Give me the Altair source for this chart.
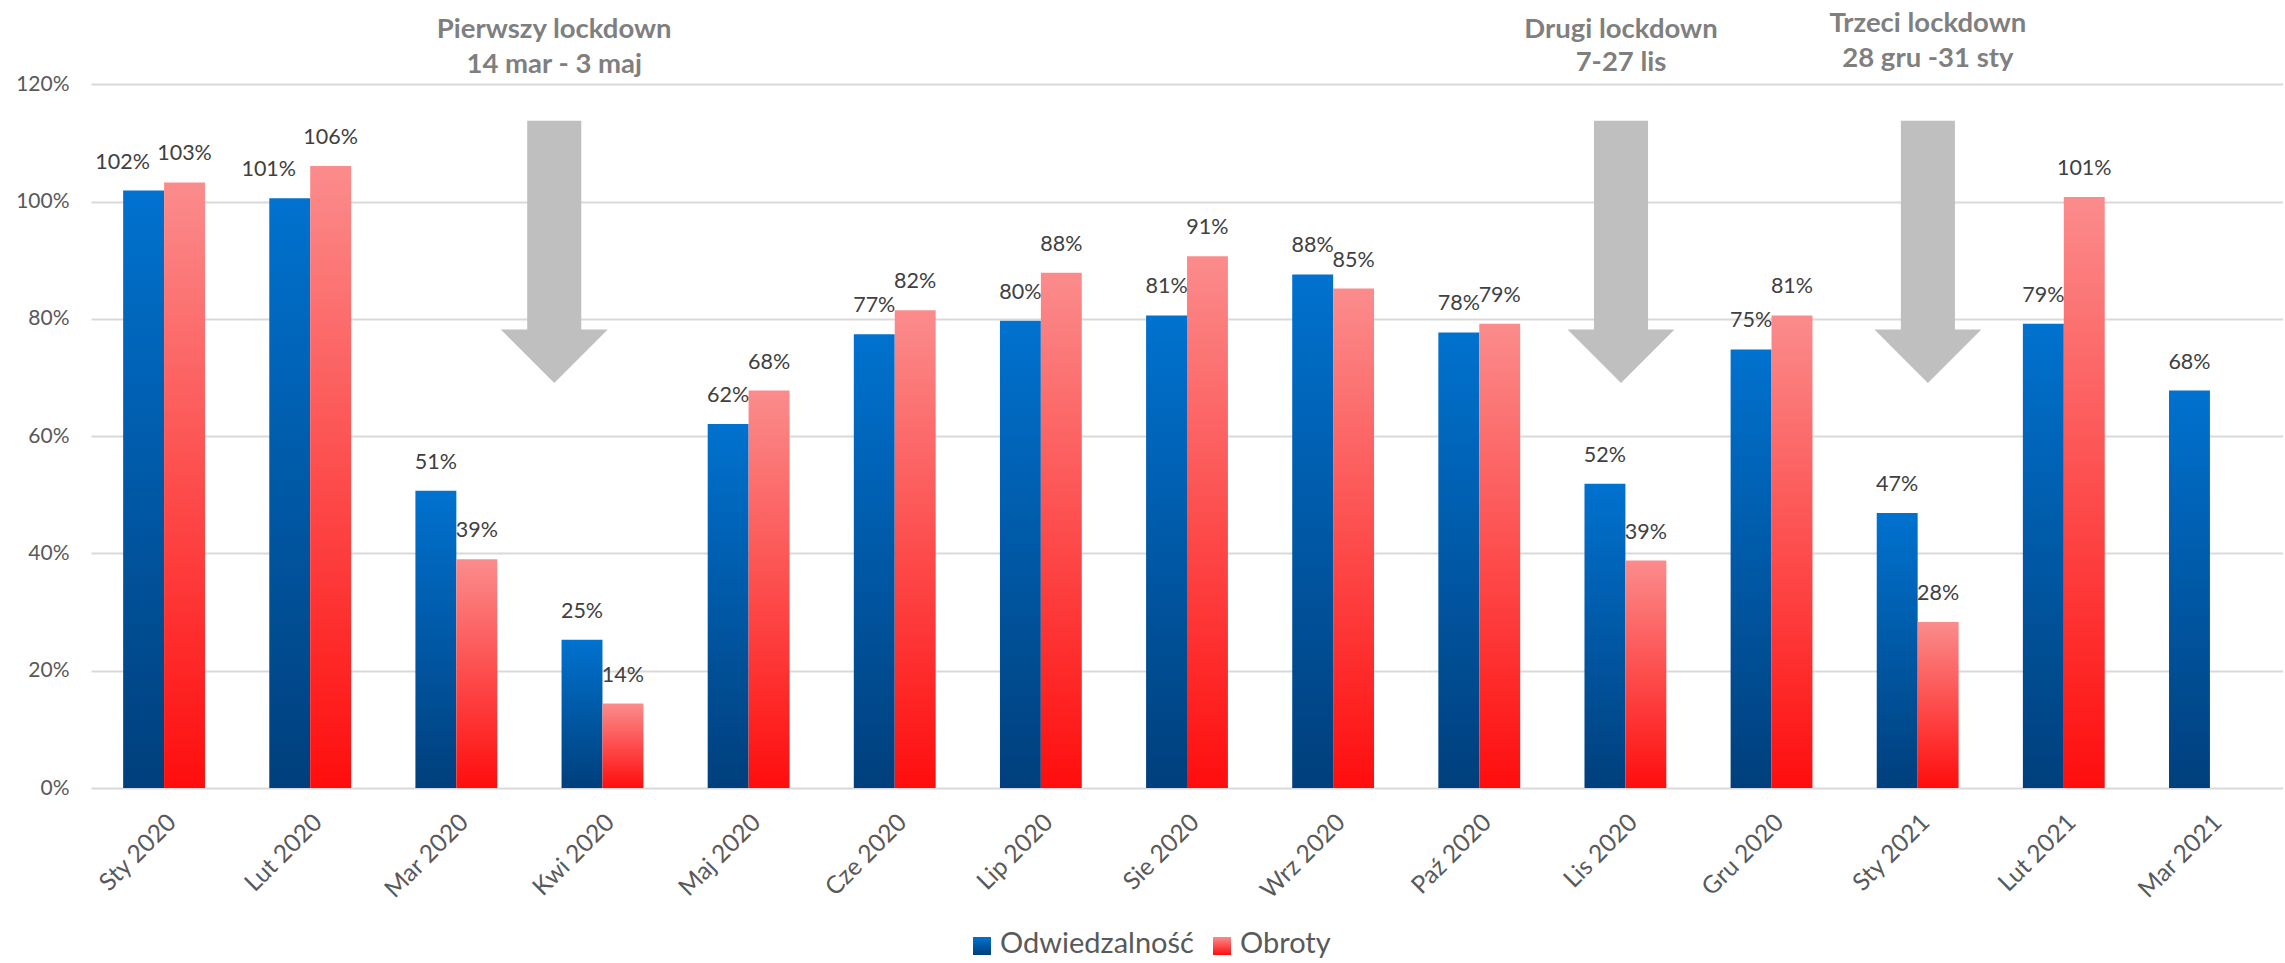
import altair as alt
import pandas as pd

# ---------------- data ----------------
months = ["Sty 2020", "Lut 2020", "Mar 2020", "Kwi 2020", "Maj 2020", "Cze 2020",
          "Lip 2020", "Sie 2020", "Wrz 2020", "Paź 2020", "Lis 2020", "Gru 2020",
          "Sty 2021", "Lut 2021", "Mar 2021"]
odwiedzalnosc = [1.019, 1.006, 0.507, 0.253, 0.621, 0.774, 0.797, 0.806, 0.876,
                 0.777, 0.519, 0.748, 0.469, 0.792, 0.678]
obroty = [1.033, 1.061, 0.390, 0.144, 0.678, 0.815, 0.879, 0.907, 0.852,
          0.792, 0.388, 0.806, 0.283, 1.008, None]
series_names = ["Odwiedzalność", "Obroty"]

lockdown_titles = ["Pierwszy lockdown", "Drugi lockdown", "Trzeci lockdown"]
lockdown_dates = ["14 mar - 3 maj", "7-27 lis", "28 gru -31 sty"]
# annotation anchor along the month axis (in month units, month i centred at i + 0.5)
lockdown_pos = [3.17, 10.47, 12.57]
lockdown_title_y = [1.293, 1.293, 1.303]
lockdown_date_y = [1.233, 1.237, 1.243]

# blue data labels that are nudged left in the original to clear their neighbours
nudged_months = ["Sty 2020", "Lut 2020"]

# ---------------- styling ----------------
FONT = "Lato"
W, H = 2192, 783
Y_MAX = 1.3356
blue_grad = alt.LinearGradient(
    gradient="linear", x1=0, y1=0, x2=0, y2=1,
    stops=[alt.GradientStop(offset=0, color="#0072cf"),
           alt.GradientStop(offset=1, color="#003f7c")])
red_grad = alt.LinearGradient(
    gradient="linear", x1=0, y1=0, x2=0, y2=1,
    stops=[alt.GradientStop(offset=0, color="#fb8c8c"),
           alt.GradientStop(offset=1, color="#ff0d0d")])
ARROW = "#bfbfbf"

# ---------------- tables ----------------
rows = []
for m, a, b in zip(months, odwiedzalnosc, obroty):
    if a is not None:
        rows.append({"month": m, "series": series_names[0], "value": a})
    if b is not None:
        rows.append({"month": m, "series": series_names[1], "value": b})
df = pd.DataFrame(rows)

SHAFT_HALF, HEAD_HALF = 0.185, 0.366
SHAFT_TOP, HEAD_TOP, HEAD_TIP = 1.138, 0.782, 0.691
shaft_df = pd.DataFrame({
    "arrow": list(range(len(lockdown_pos))),
    "x0": [p - SHAFT_HALF for p in lockdown_pos],
    "x1": [p + SHAFT_HALF for p in lockdown_pos],
    "y0": [SHAFT_TOP] * len(lockdown_pos),
    "y1": [HEAD_TOP - 0.002] * len(lockdown_pos),
})
head_rows = []
for i, p in enumerate(lockdown_pos):
    head_rows += [
        {"arrow": i, "hx": p - HEAD_HALF, "hy": HEAD_TOP, "hy2": HEAD_TOP},
        {"arrow": i, "hx": p, "hy": HEAD_TOP, "hy2": HEAD_TIP},
        {"arrow": i, "hx": p + HEAD_HALF, "hy": HEAD_TOP, "hy2": HEAD_TOP},
    ]
head_df = pd.DataFrame(head_rows)
ann_rows = []
for t, d, p, ty, dy in zip(lockdown_titles, lockdown_dates, lockdown_pos,
                           lockdown_title_y, lockdown_date_y):
    ann_rows.append({"line": t, "pos": p, "ty": ty})
    ann_rows.append({"line": d, "pos": p, "ty": dy})
ann_df = pd.DataFrame(ann_rows)

# ---------------- encodings ----------------
y_scale = alt.Scale(domain=[0, Y_MAX], nice=False, zero=True)
y_axis = alt.Axis(title=None, values=[0, 0.2, 0.4, 0.6, 0.8, 1.0, 1.2],
                  format=".0%", domain=False, ticks=False, labelPadding=22,
                  labelFontSize=21, labelFont=FONT, labelColor="#595959",
                  gridColor="#d9d9d9", gridWidth=2)
x_ord = alt.X("month:N", sort=months,
              scale=alt.Scale(domain=months, paddingInner=0.44, paddingOuter=0.22),
              axis=alt.Axis(title=None, labelAngle=-45, labelFontSize=24.5, labelFont=FONT,
                            labelColor="#595959", domain=False, ticks=False,
                            labelPadding=22, grid=False))
x_off = alt.XOffset("series:N", scale=alt.Scale(domain=series_names))
y_main = alt.Y("value:Q", scale=y_scale, axis=y_axis)
x_q_scale = alt.Scale(domain=[0, len(months)], nice=False, zero=False)

bars_blue = alt.Chart(df).transform_filter(
    alt.datum.series == series_names[0]
).mark_bar(color=blue_grad).encode(x=x_ord, xOffset=x_off, y=y_main)

bars_red = alt.Chart(df).transform_filter(
    alt.datum.series == series_names[1]
).mark_bar(color=red_grad).encode(x=x_ord, xOffset=x_off, y=y_main)

label_style = dict(baseline="bottom", dy=-17, fontSize=21.5, font=FONT, color="#404040")

labels = alt.Chart(df).transform_filter(
    ~(alt.expr.indexof(nudged_months, alt.datum.month) >= 0) | (alt.datum.series != series_names[0])
).mark_text(**label_style).encode(
    x=x_ord, xOffset=x_off, y=y_main, text=alt.Text("value:Q", format=".0%"))

labels_nudged = alt.Chart(df).transform_filter(
    (alt.expr.indexof(nudged_months, alt.datum.month) >= 0) & (alt.datum.series == series_names[0])
).mark_text(dx=-21, **label_style).encode(
    x=x_ord, xOffset=x_off, y=y_main, text=alt.Text("value:Q", format=".0%"))

ordinal_part = alt.layer(bars_blue, bars_red, labels, labels_nudged)

shafts = alt.Chart(shaft_df).mark_rect(color=ARROW).encode(
    x=alt.X("x0:Q", scale=x_q_scale, axis=None), x2="x1:Q",
    y=alt.Y("y0:Q", scale=y_scale, axis=y_axis), y2="y1:Q")

heads = alt.Chart(head_df).mark_area(color=ARROW, opacity=1).encode(
    x=alt.X("hx:Q", scale=x_q_scale, axis=None),
    y=alt.Y("hy:Q", scale=y_scale, axis=y_axis), y2="hy2:Q",
    detail="arrow:N")

ann = alt.Chart(ann_df).mark_text(
    fontSize=27.5, font=FONT, fontWeight="bold", color="#7f7f7f", baseline="middle"
).encode(x=alt.X("pos:Q", scale=x_q_scale, axis=None),
         y=alt.Y("ty:Q", scale=y_scale, axis=y_axis),
         text="line:N")

quant_part = alt.layer(shafts, heads, ann)

# ---------------- legend ----------------
legend_blue = alt.Chart(alt.Data(values=[{"s": series_names[0]}])).mark_square(
    color=blue_grad, size=324, opacity=1).encode(x=alt.value(891), y=alt.value(941))
legend_blue_t = alt.Chart(alt.Data(values=[{"s": series_names[0]}])).mark_text(
    align="left", baseline="middle", fontSize=29, font=FONT, color="#595959").encode(
    x=alt.value(909), y=alt.value(939), text="s:N")
legend_red = alt.Chart(alt.Data(values=[{"s": series_names[1]}])).mark_square(
    color=red_grad, size=324, opacity=1).encode(x=alt.value(1131), y=alt.value(941))
legend_red_t = alt.Chart(alt.Data(values=[{"s": series_names[1]}])).mark_text(
    align="left", baseline="middle", fontSize=29, font=FONT, color="#595959").encode(
    x=alt.value(1149), y=alt.value(939), text="s:N")

chart = alt.layer(
    ordinal_part, quant_part, legend_blue, legend_blue_t, legend_red, legend_red_t
).resolve_scale(x="independent").properties(
    width=W, height=H,
    padding={"left": 91, "top": 5, "right": 0, "bottom": 174},
    autosize=alt.AutoSizeParams(type="none"),
    background="white",
).configure_view(stroke=None)

chart.save("out.html", embed_options={"renderer": "svg", "actions": False})
